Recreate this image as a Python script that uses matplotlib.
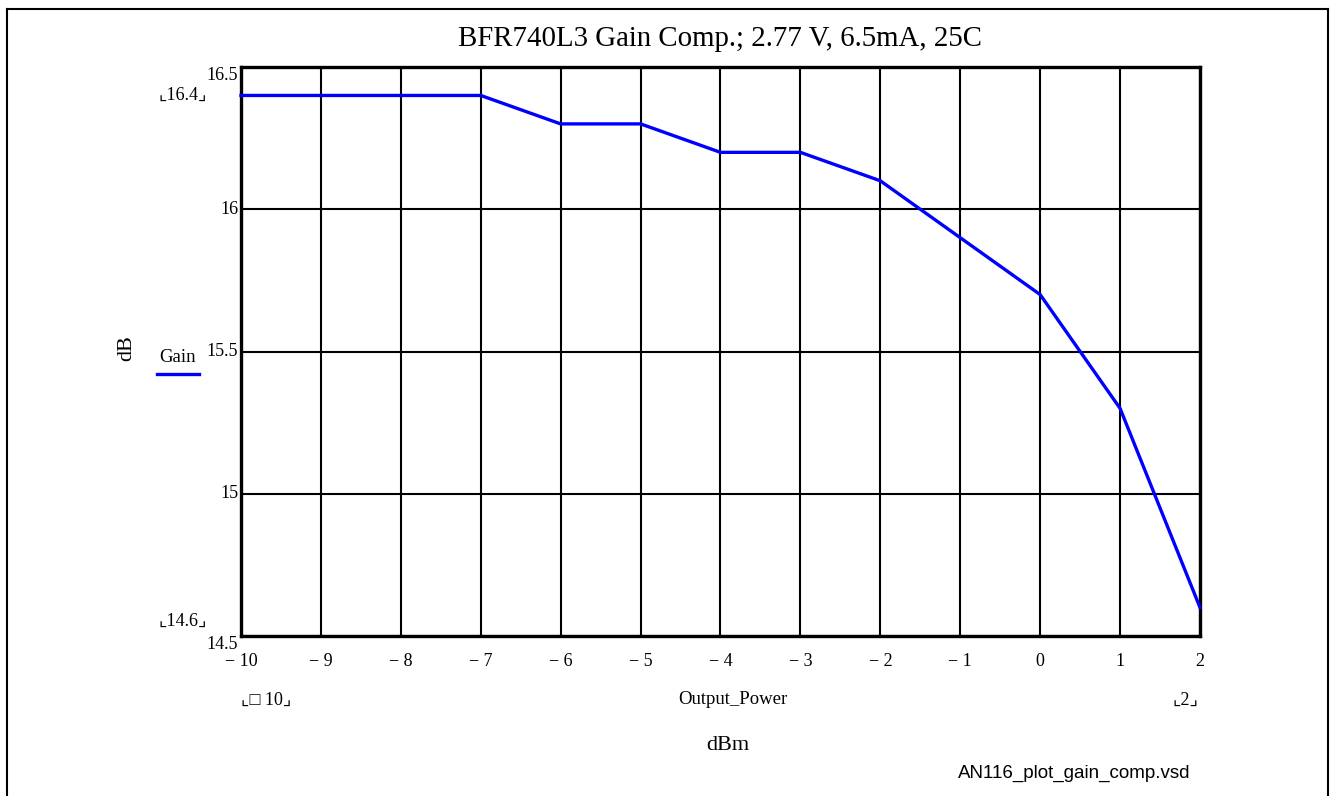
import numpy as np
import matplotlib.pyplot as plt
from matplotlib.lines import Line2D

output_power = [-10, -9, -8, -7, -6, -5, -4, -3, -2, -1, 0, 1, 2]
gain = [16.4, 16.4, 16.4, 16.4, 16.3, 16.3, 16.2, 16.2, 16.1, 15.9, 15.7, 15.3, 14.6]
y_ticks = [14.5, 15, 15.5, 16, 16.5]
y_tick_labels = ["14.5", "15", "15.5", "16", "16.5"]
x_tick_labels = ["\u2212 10", "\u2212 9", "\u2212 8", "\u2212 7", "\u2212 6", "\u2212 5",
                 "\u2212 4", "\u2212 3", "\u2212 2", "\u2212 1", "0", "1", "2"]

W, H = 1334, 796
SERIF = ["Liberation Serif", "DejaVu Sans"]
plt.rcParams['font.family'] = SERIF


def fx(px):
    return px / W


def fy(py):
    return 1 - py / H


fig = plt.figure(figsize=(W / 100, H / 100), dpi=100)
ax = fig.add_axes([fx(241), fy(636), fx(1200) - fx(241), fy(67) - fy(636)])

ax.plot(output_power, gain, color="#0000ff", lw=2.4, zorder=3, clip_on=False)
ax.set_xlim(-10, 2)
ax.set_ylim(14.5, 16.5)
ax.set_xticks(output_power)
ax.set_xticklabels(x_tick_labels, fontsize=13)
ax.set_yticks(y_ticks)
ax.set_yticklabels(y_tick_labels, fontsize=13)
ax.tick_params(axis="x", length=0, pad=12)
ax.tick_params(axis="y", length=0, pad=2)
for lab in ax.get_yticklabels():
    lab.set_va("top" if lab.get_text() in ("16.5", "14.5") else "center")
ax.grid(True, color="black", lw=1.5)
ax.set_axisbelow(True)
for s in ax.spines.values():
    s.set_linewidth(2.4)

# title and labels
fig.text(fx(720), fy(39), "BFR740L3 Gain Comp.; 2.77 V, 6.5mA, 25C",
         ha="center", va="center", fontsize=20.8)
fig.text(fx(127), fy(348), "dB", rotation=90, ha="center", va="center", fontsize=16)
fig.text(fx(178), fy(357), "Gain", ha="center", va="center", fontsize=13.5)
fig.add_artist(Line2D([fx(157), fx(199)], [fy(374), fy(374)], color="#0000ff", lw=2.4))
fig.text(fx(183), fy(95), "\u231e16.4\u231f", ha="center", va="center", fontsize=13)
fig.text(fx(183), fy(621), "\u231e14.6\u231f", ha="center", va="center", fontsize=13)
fig.text(fx(266), fy(700), "\u231e\u25a1 10\u231f", ha="center", va="center", fontsize=13)
fig.text(fx(733), fy(700), "Output_Power", ha="center", va="center", fontsize=13.5)
fig.text(fx(1185), fy(700), "\u231e2\u231f", ha="center", va="center", fontsize=13)
fig.text(fx(728), fy(745), "dBm", ha="center", va="center", fontsize=16)
fig.text(fx(1074), fy(773), "AN116_plot_gain_comp.vsd", ha="center", va="center",
         fontsize=13.5, family="Liberation Sans")

# outer frame (no bottom edge)
for xs, ys in [([7, 7], [9, 796]), ([7, 1328], [9, 9]), ([1328, 1328], [9, 796])]:
    fig.add_artist(Line2D([fx(v) for v in xs], [fy(v) for v in ys], color="black", lw=1.5))

fig.savefig("out.png", dpi=100)
